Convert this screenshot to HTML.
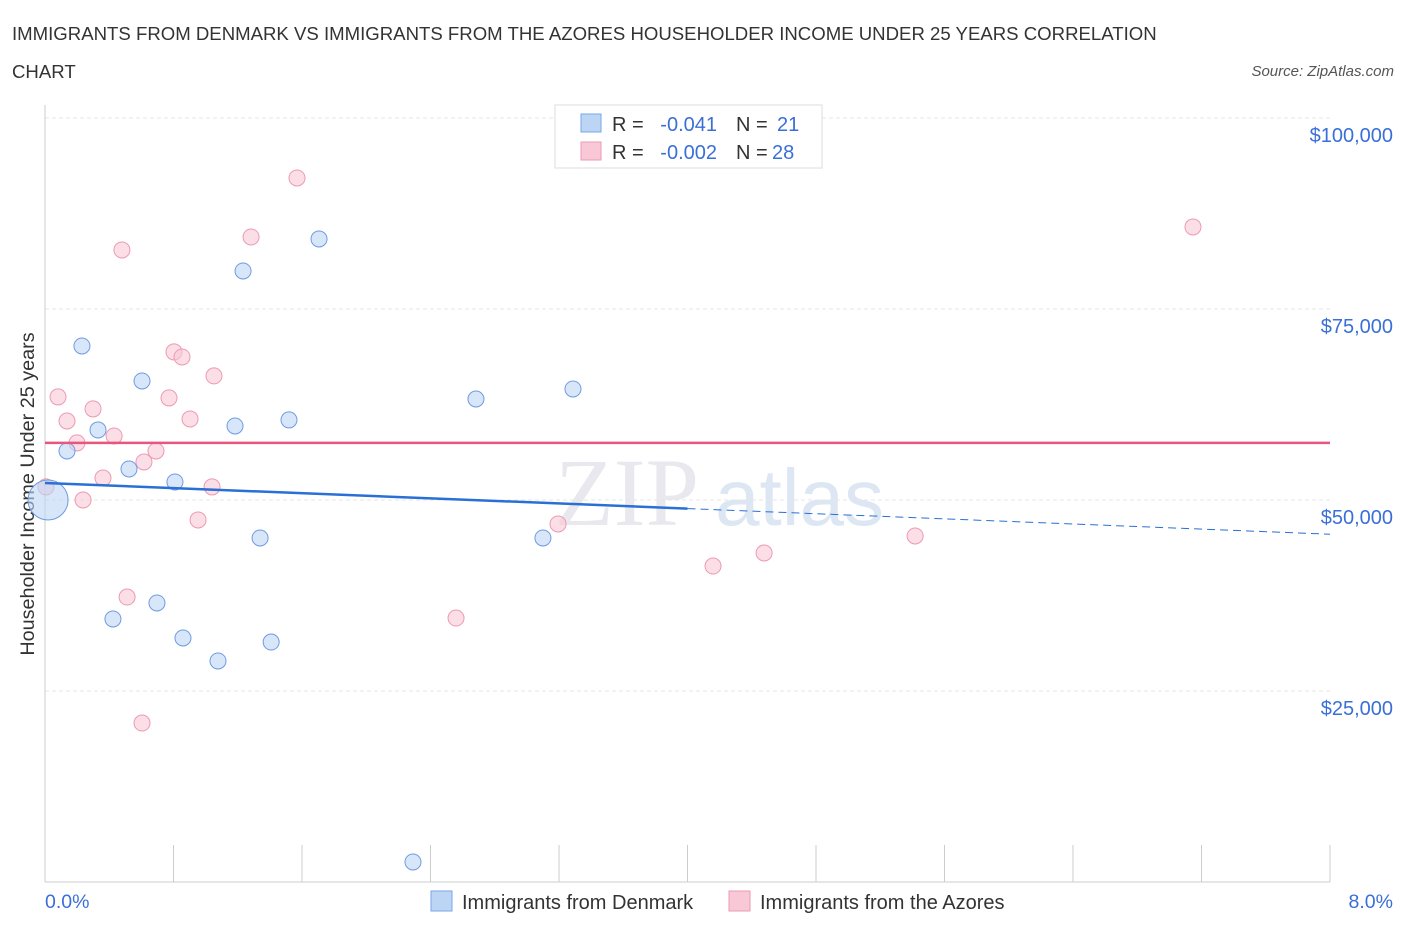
<!DOCTYPE html>
<html><head><meta charset="utf-8"><style>
body{margin:0;background:#fff;font-family:"Liberation Sans",sans-serif;}
</style></head><body>
<svg width="1406" height="930" xmlns="http://www.w3.org/2000/svg" font-family="Liberation Sans, sans-serif">
<text x="12" y="40" font-size="18.6" fill="#333">IMMIGRANTS FROM DENMARK VS IMMIGRANTS FROM THE AZORES HOUSEHOLDER INCOME UNDER 25 YEARS CORRELATION</text>
<text x="12" y="78" font-size="18.6" fill="#333">CHART</text>
<text x="1394" y="76" font-size="15" fill="#555" font-style="italic" text-anchor="end">Source: ZipAtlas.com</text>
<text x="555" y="525" font-size="96" fill="#e8e8ee" font-family="Liberation Serif, serif">ZIP</text>
<text x="715" y="525" font-size="80" fill="#dde6f3">atlas</text>
<g id="grid"></g>
<g id="axes"></g>
<text transform="translate(34,494) rotate(-90)" font-size="19.8" fill="#333" text-anchor="middle">Householder Income Under 25 years</text>
<text x="45" y="908" font-size="19.5" fill="#3a6fd8">0.0%</text>
<text x="1393" y="908" font-size="19.5" fill="#3a6fd8" text-anchor="end">8.0%</text>
<g id="marks"></g>
<g>
<rect x="555" y="105" width="267" height="63" fill="#fff" stroke="#ddd"/>
<rect x="581" y="114" width="20" height="18" fill="#bcd5f5" stroke="#7aa6e6"/>
<rect x="581" y="142" width="20" height="18" fill="#f8c8d6" stroke="#ec9ab3"/>
<g font-size="20" fill="#333">
<text x="612" y="131">R =</text><text x="717" y="131" fill="#3a6fd8" text-anchor="end">-0.041</text>
<text x="736" y="131">N =</text><text x="777" y="131" fill="#3a6fd8">21</text>
<text x="612" y="159">R =</text><text x="717" y="159" fill="#3a6fd8" text-anchor="end">-0.002</text>
<text x="736" y="159">N =</text><text x="772" y="159" fill="#3a6fd8">28</text>
</g>
</g>
<g>
<rect x="431" y="891" width="21" height="20" fill="#bcd5f5" stroke="#7aa6e6"/>
<text x="462" y="909" font-size="20" fill="#333">Immigrants from Denmark</text>
<rect x="729" y="891" width="21" height="20" fill="#f8c8d6" stroke="#ec9ab3"/>
<text x="760" y="909" font-size="20" fill="#333">Immigrants from the Azores</text>
</g>
</svg>
<script>
const yTicks=[25000,50000,75000,100000];
const yTickLabels=["$25,000","$50,000","$75,000","$100,000"];
const blueX=[0.137,0.230,0.330,0.523,0.604,0.423,0.697,0.809,0.859,1.077,1.183,1.233,1.339,1.408,1.519,1.706,2.291,2.683,3.100,3.287,0.019];
const blueY=[56420,70160,59170,54060,65580,34430,36520,52360,31940,28930,59690,79980,45030,31410,60480,84170,2620,63220,45030,64530,50000];
const pinkX=[1.569,0.479,1.283,7.147,0.803,0.853,1.052,0.081,0.772,0.299,0.137,0.903,0.430,0.199,0.691,0.616,0.361,0.006,1.040,0.237,0.953,3.194,5.417,4.477,4.159,0.511,2.559,0.604];
const pinkY=[92150,82730,84430,85740,69380,68720,66240,63490,63360,61920,60340,60610,58380,57470,56420,54980,52880,51710,51710,50000,47390,46860,45290,43070,41360,37300,34550,20810];
const blueTrend=[52230,45520];
const pinkTrend=[57470,57470];
const NS="http://www.w3.org/2000/svg";
const X=v=>45+v/8*1285, Y=v=>882-v/25000*191;
function mk(t,a,p){const e=document.createElementNS(NS,t);for(const k in a)e.setAttribute(k,a[k]);p.appendChild(e);return e;}
const grid=document.getElementById('grid'),axes=document.getElementById('axes'),marks=document.getElementById('marks');
yTicks.forEach((t,i)=>{
 const l=mk('line',{x1:45,x2:1330,y1:Y(t),y2:Y(t),stroke:'#e6e6e6','stroke-dasharray':'4,3'},grid);
 
 
 const tx=mk('text',{x:1393,y:Y(t)+24,'font-size':20,fill:'#3a6fd8','text-anchor':'end'},axes);
 tx.textContent=yTickLabels[i];
 
 
});
const ax=mk('line',{x1:45,x2:1330,y1:882,y2:882,stroke:'#ccc'},axes);


const ay=mk('line',{x1:45,x2:45,y1:105,y2:882,stroke:'#ccc'},axes);


for(let i=0;i<=10;i++){const t=mk('line',{x1:X(i*0.8),x2:X(i*0.8),y1:845,y2:882,stroke:'#ccc'},axes);
 
 }
function pts(xs,ys,fill,stroke,name){xs.forEach((x,i)=>{
 const big=(name==='denmark-point'&&i===xs.length-1);
 const c=mk('circle',{cx:X(x),cy:Y(ys[i]),r:big?20:8,fill:fill,'fill-opacity':0.6,stroke:stroke,'stroke-width':1},marks);
 
 });}
pts(pinkX,pinkY,'#f8c8d6','#ec9ab3','azores-point');
pts(blueX,blueY,'#bcd5f5','#6f9be0','denmark-point');
const bm=blueTrend[0]+(blueTrend[1]-blueTrend[0])*4/8;
const b1=mk('line',{x1:X(0),y1:Y(blueTrend[0]),x2:X(4),y2:Y(bm),stroke:'#2a6fd6','stroke-width':2.5},marks);


const b2=mk('line',{x1:X(4),y1:Y(bm),x2:X(8),y2:Y(blueTrend[1]),stroke:'#2a6fd6','stroke-width':1,'stroke-dasharray':'8,5'},marks);


const p1=mk('line',{x1:X(0),y1:Y(pinkTrend[0]),x2:X(8),y2:Y(pinkTrend[1]),stroke:'#e8557e','stroke-width':2.5},marks);


</script>
</body></html>
